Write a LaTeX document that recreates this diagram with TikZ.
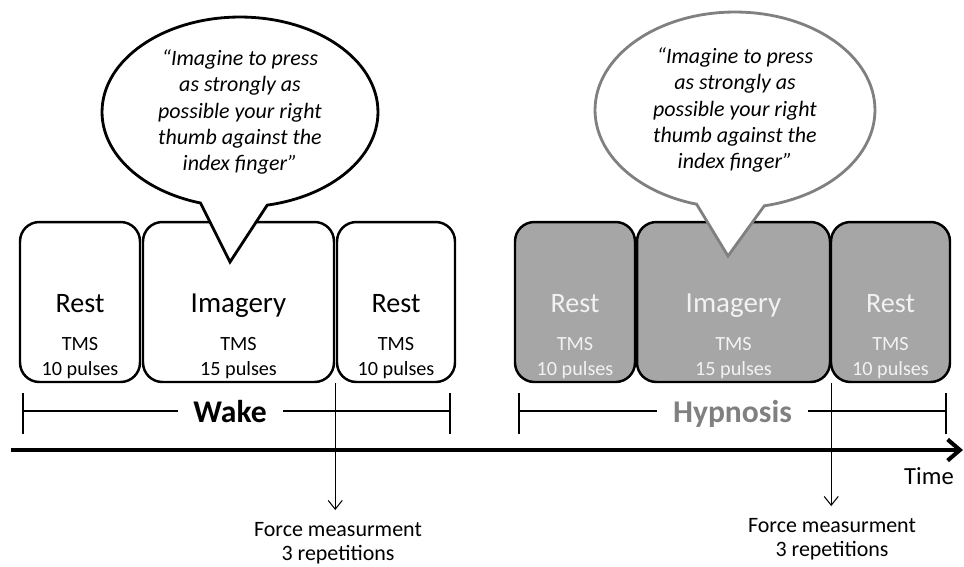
\documentclass[tikz,border=0pt]{standalone}
\usepackage{fontspec}
\setmainfont{Carlito}
\usetikzlibrary{arrows.meta, positioning, shapes.callouts}
\definecolor{hypgray}{RGB}{166,166,166}
\definecolor{hyptext}{RGB}{242,242,242}
\definecolor{hypline}{RGB}{128,128,128}

\begin{document}
\begin{tikzpicture}[
    x=0.02cm, y=-0.02cm,
    phase/.style={rectangle, draw, line width=1.4pt, rounded corners=11pt, fill=white, minimum height=3.2cm, inner sep=0pt},
    hphase/.style={phase, fill=hypgray},
    phasetext/.style={anchor=south, align=center, inner sep=0pt, font=\fontsize{11.5}{14.2}\selectfont},
    bubble/.style={ellipse callout, draw, fill=white, line width=1.6pt, callout pointer arc=28, align=center, inner sep=0pt, font=\fontsize{12.5}{15}\selectfont\itshape},
    bracket/.style={line width=0.8pt},
    phaselabel/.style={fill=white, inner xsep=9pt, inner ysep=0pt, text depth=0pt, font=\fontsize{18}{20}\selectfont\bfseries},
    note/.style={anchor=north, align=center, inner sep=0pt, font=\fontsize{12.5}{13.5}\selectfont},
    marker/.style={-{Straight Barb[length=5pt, width=8pt]}, line width=0.6pt},
    timeline/.style={-{Straight Barb[length=7pt, width=12pt]}, line width=2.3pt},
]
\useasboundingbox (0,0) rectangle (964,566);

% Wake blocks
\node[phase, minimum width=2.4cm] (wrest1) at (80,302) {};
\node[phase, minimum width=3.82cm] (wimg) at (238.5,302) {};
\node[phase, minimum width=2.36cm] (wrest2) at (396,302) {};
\node[phasetext] (wrest1t) at ([yshift=2.3pt]wrest1.south) {{\fontsize{16}{19}\selectfont Rest}\\[7.3pt]TMS\\10 pulses};
\node[phasetext] (wimgt) at ([yshift=2.3pt]wimg.south) {{\fontsize{16.5}{19}\selectfont Imagery}\\[7.3pt]TMS\\15 pulses};
\node[phasetext] (wrest2t) at ([yshift=2.3pt]wrest2.south) {{\fontsize{16}{19}\selectfont Rest}\\[7.3pt]TMS\\10 pulses};

% Hypnosis blocks
\node[hphase, minimum width=2.4cm] (hrest1) at (575,302) {};
\node[hphase, minimum width=3.86cm] (himg) at (733.5,302) {};
\node[hphase, minimum width=2.38cm] (hrest2) at (890.5,302) {};
\node[phasetext, text=hyptext] (hrest1t) at ([yshift=2.3pt]hrest1.south) {{\fontsize{16}{19}\selectfont Rest}\\[7.3pt]TMS\\10 pulses};
\node[phasetext, text=hyptext] (himgt) at ([yshift=2.3pt]himg.south) {{\fontsize{16.5}{19}\selectfont Imagery}\\[7.3pt]TMS\\15 pulses};
\node[phasetext, text=hyptext] (hrest2t) at ([yshift=2.3pt]hrest2.south) {{\fontsize{16}{19}\selectfont Rest}\\[7.3pt]TMS\\10 pulses};

% Speech bubbles
\node[bubble, minimum width=5.52cm, minimum height=3.8cm, callout absolute pointer={(230,262)}] (wbubble) at (240,112) {“Imagine to press\\as strongly as\\possible your right\\thumb against the\\index finger”};
\node[bubble, draw=hypline, minimum width=5.6cm, minimum height=3.92cm, callout absolute pointer={(728,256)}] (hbubble) at (735,110) {“Imagine to press\\as strongly as\\possible your right\\thumb against the\\index finger”};

% Brackets
\coordinate (wl) at (23,411);
\coordinate (wr) at (450,411);
\coordinate (hl) at (519,411);
\coordinate (hr) at (946,411);
\draw[bracket] (wl) -- node[phaselabel, pos=0.485] (wake) {Wake} (wr);
\draw[bracket] (hl) -- node[phaselabel, text=hypline] (hyp) {Hypnosis} (hr);
\draw[bracket] ([yshift=10.2pt]wl) -- ([yshift=-13pt]wl);
\draw[bracket] ([yshift=10.2pt]wr) -- ([yshift=-13pt]wr);
\draw[bracket] ([yshift=10.2pt]hl) -- ([yshift=-13pt]hl);
\draw[bracket] ([yshift=10.2pt]hr) -- ([yshift=-13pt]hr);

% Time axis
\coordinate (t0) at (11,450);
\coordinate (t1) at (963,450);
\draw[timeline] (t0) -- (t1);
\node[font=\fontsize{14}{16}\selectfont] (time) at (929,476) {Time};

% Force measurements
\node[note] (wforce) at (338,522) {Force measurment\\3 repetitions};
\node[note] (hforce) at (832,518) {Force measurment\\3 repetitions};
\draw[marker] (wimg.south east) -- ([yshift=6.8pt]wimg.south east |- wforce.north);
\draw[marker] (himg.south east) -- ([yshift=6.8pt]himg.south east |- hforce.north);

\end{tikzpicture}
\end{document}
